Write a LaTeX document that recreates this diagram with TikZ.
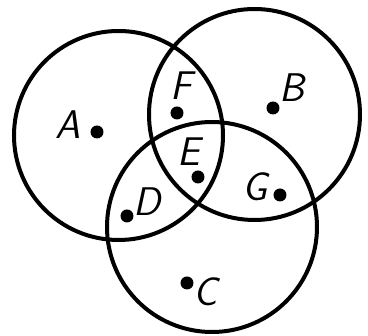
\documentclass[tikz,border=0pt]{standalone}
\begin{document}
\begin{tikzpicture}[x=1pt, y=-1pt, line width=4pt,
  dot/.style={circle, fill, inner sep=0pt, minimum size=13pt},
  lbl/.style={font=\fontsize{40}{40}\selectfont\sffamily\itshape, inner sep=0pt}]
  \useasboundingbox (0,0) rectangle (368,336);

  \coordinate (cA) at (118.5,135.5);
  \coordinate (cB) at (254.5,114.5);
  \coordinate (cC) at (212,227);

  \draw (cA) circle (104.5pt);
  \draw (cB) circle (105.5pt);
  \draw (cC) circle (105pt);

  \node[dot] (pA) at (97,132) {};
  \node[dot] (pB) at (273,108) {};
  \node[dot] (pC) at (187,283) {};
  \node[dot] (pD) at (127,216) {};
  \node[dot] (pE) at (198,177) {};
  \node[dot] (pF) at (177,113) {};
  \node[dot] (pG) at (280,195) {};

  \node[lbl] (lA) at (68,125) {A};
  \node[lbl] (lB) at (292,88) {B};
  \node[lbl] (lC) at (206,292) {C};
  \node[lbl] (lD) at (147,202) {D};
  \node[lbl] (lE) at (189,152) {E};
  \node[lbl] (lF) at (181,86) {F};
  \node[lbl] (lG) at (255,187) {G};
\end{tikzpicture}
\end{document}
